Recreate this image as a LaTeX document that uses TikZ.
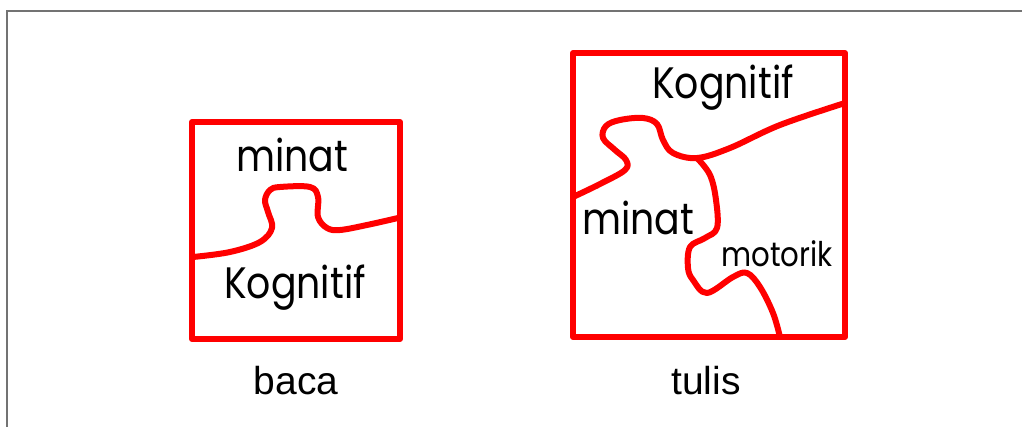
\documentclass[tikz,border=0pt]{standalone}
\usepackage{fontspec}
\setmainfont{Liberation Sans}
\newfontfamily\handfont[FakeStretch=0.86]{Poppins}

\tikzset{
  piece/.style={red, line width=6pt, line join=round, line cap=round},
  hand/.style={font=\handfont\fontsize{44}{48}\selectfont, inner sep=0pt},
  caption/.style={font=\fontsize{39}{44}\selectfont, inner sep=0pt}
}

\begin{document}
\begin{tikzpicture}[x=1pt,y=-1pt]
\useasboundingbox (0,0) rectangle (1022,427);

%Grey frame, top and left only
\colorlet{FrameGrey}{black!55}
\draw[line width=2pt,FrameGrey] (1022,11) -- (7,11) -- (7,427);

%Box baca
\draw[piece] (192,122) rectangle (400,339);
\draw[piece] plot[smooth,tension=0.6] coordinates {(193,257) (230,252) (260,242) (272,228) (268,212) (265,200) (270,190) (280,187) (310,187) (318,197) (318,217) (327,228) (340,230) (367,225) (398,218)};
\node[hand] (bacaminat) at (292,155) {minat};
\node[hand] (bacakog) at (295,288) {Kognitif};
\node[caption] (baca) at (296,381) {baca};

%Box tulis
\draw[piece] (573,53) rectangle (845,337);
%Kognitif / minat
\draw[piece] plot[smooth,tension=0.6] coordinates {(573,197) (600,184) (625,170) (626,160) (615,150) (603,138) (606,126) (620,120) (643,118) (657,124) (663,140) (673,153) (697,158) (730,148) (780,125) (845,103)};
%minat / motorik
\draw[piece] plot[smooth,tension=0.6] coordinates {(697,158) (710,175) (716,200) (717,228) (705,238) (690,247) (688,268) (693,280) (707,293) (733,277) (747,273) (760,287) (773,313) (780,337)};
\node[hand] (tuliskog) at (723,88) {Kognitif};
\node[hand] (tulisminat) at (638,218) {minat};
\node[hand,font=\handfont\fontsize{34}{38}\selectfont] (tulismot) at (777,254) {motorik};
\node[caption] (tulis) at (706,381) {tulis};

\end{tikzpicture}
\end{document}
